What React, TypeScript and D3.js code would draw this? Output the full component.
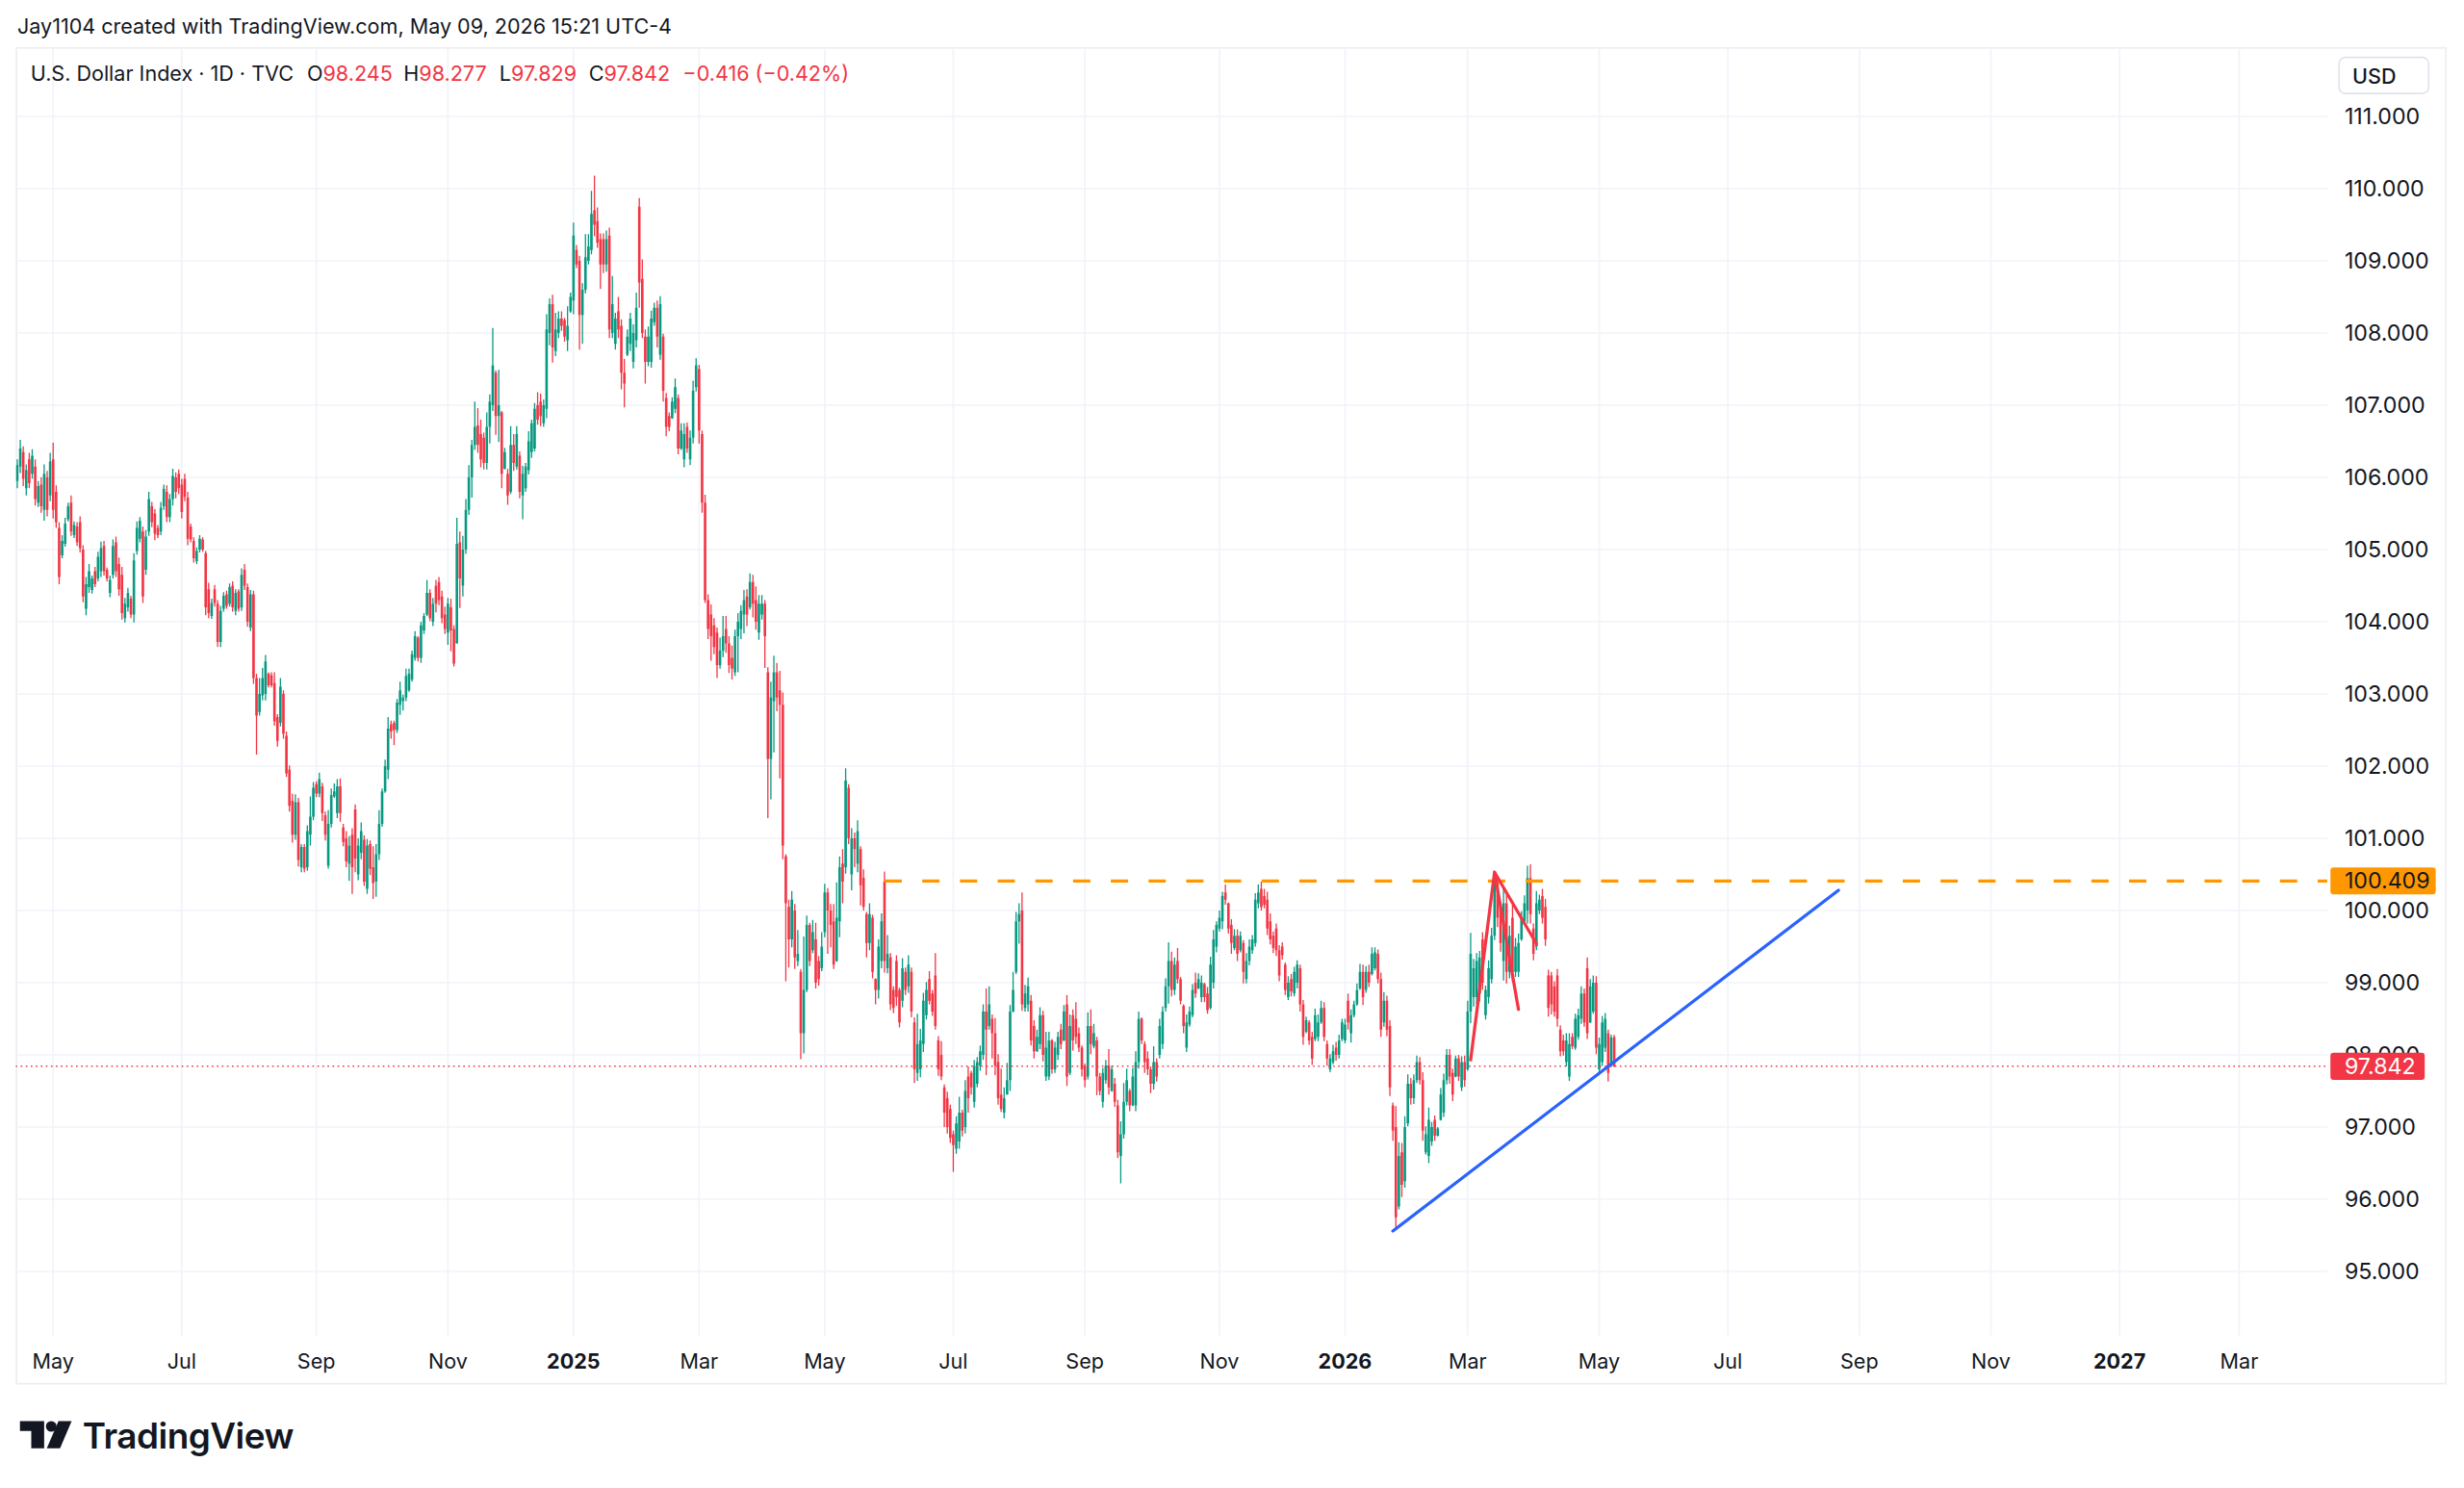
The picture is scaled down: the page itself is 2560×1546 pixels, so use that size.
import { useEffect, useRef } from "react";
import * as d3 from "d3";

// [open, high, low, close] per daily session
type Bar = [number, number, number, number];

const candles2024: Bar[] = [
  [105.95,106.25,105.85,106.17],[106.15,106.52,106.06,106.40],[106.35,106.43,105.88,105.98],[105.85,106.18,105.75,106.10],
  [106.25,106.34,105.85,105.92],[106.05,106.39,105.98,106.30],[106.15,106.25,105.61,105.70],[105.65,105.95,105.59,105.88],
  [105.90,106.00,105.51,105.60],[105.55,106.18,105.40,106.05],[106.00,106.09,105.46,105.55],[105.75,106.34,105.67,106.22],
  [106.25,106.48,105.43,105.55],[105.80,105.89,105.30,105.38],[105.30,105.38,104.52,104.62],[104.92,105.20,104.88,105.12],
  [105.08,105.44,105.04,105.36],[105.42,105.65,105.39,105.60],[105.65,105.75,105.19,105.25],[105.20,105.39,105.16,105.34],
  [105.32,105.38,105.05,105.10],[105.38,105.46,104.96,105.02],[105.00,105.06,104.27,104.35],[104.18,104.62,104.09,104.52],
  [104.48,104.80,104.40,104.70],[104.44,104.64,104.39,104.60],[104.70,104.76,104.48,104.52],[104.60,104.97,104.56,104.90],
  [104.70,105.11,104.62,105.02],[105.05,105.12,104.64,104.70],[104.72,104.75,104.56,104.60],[104.40,104.64,104.34,104.58],
  [104.65,105.14,104.60,105.05],[105.10,105.18,104.62,104.70],[104.80,104.89,104.36,104.45],[104.65,104.76,104.03,104.12],
  [104.05,104.33,103.99,104.25],[104.20,104.47,104.14,104.40],[104.32,104.36,104.05,104.10],[104.10,104.95,103.99,104.85],
  [104.98,105.39,104.93,105.30],[105.15,105.45,105.10,105.40],[105.25,105.32,104.26,104.35],[104.72,105.27,104.65,105.18],
  [105.25,105.80,105.19,105.70],[105.60,105.66,105.31,105.38],[105.50,105.56,105.13,105.22],[105.30,105.34,105.16,105.20],
  [105.25,105.66,105.20,105.58],[105.60,105.90,105.55,105.84],[105.80,105.89,105.38,105.45],[105.45,105.77,105.38,105.70],
  [105.70,106.12,105.61,106.02],[106.00,106.07,105.71,105.80],[106.05,106.11,105.77,105.85],[105.90,105.98,105.43,105.52],
  [105.98,106.05,105.67,105.73],[105.72,105.80,105.06,105.15],[105.32,105.36,105.10,105.14],[105.12,105.17,104.82,104.88],
  [104.84,105.03,104.80,104.98],[105.00,105.20,104.96,105.15],[105.14,105.17,104.97,105.00],[104.95,104.98,104.09,104.20],
  [104.45,104.54,104.05,104.12],[104.08,104.32,104.04,104.26],[104.45,104.51,104.21,104.26],[104.25,104.30,103.65,103.72],
  [103.72,104.22,103.65,104.15],[104.18,104.41,104.14,104.36],[104.38,104.43,104.18,104.22],[104.25,104.53,104.21,104.48],
  [104.50,104.56,104.14,104.20],[104.15,104.45,104.09,104.40],[104.42,104.45,104.14,104.18],[104.20,104.74,104.15,104.65],
  [104.72,104.80,104.44,104.50],[104.48,104.53,103.93,104.00],[103.92,104.44,103.87,104.38],[104.38,104.43,103.14,103.22],
  [103.22,103.28,102.16,102.70],[102.75,103.22,102.70,103.00],[102.98,103.36,102.91,103.22],[103.00,103.54,102.91,103.45],
  [103.28,103.30,103.09,103.12],[103.26,103.30,103.09,103.12],[103.15,103.30,102.56,102.62],[102.68,102.72,102.27,102.35],
  [102.60,103.22,102.55,103.10],[103.00,103.05,102.38,102.45],[102.42,102.48,101.85,101.90],[101.95,102.01,101.37,101.45],
  [101.52,101.62,100.94,101.05],[101.05,101.61,100.98,101.50],[101.50,101.56,100.61,100.70],[100.60,100.92,100.53,100.88],
  [100.88,100.92,100.53,100.58],[100.60,101.18,100.55,101.10],[101.05,101.58,100.90,101.30],[101.30,101.78,101.25,101.70],
  [101.75,101.79,101.57,101.62],[101.62,101.91,101.57,101.82],[101.72,101.77,101.24,101.35],[101.32,101.37,100.97,101.05],
  [100.62,101.39,100.58,101.20],[101.20,101.69,101.15,101.60],[101.58,101.76,101.56,101.65],[101.35,101.82,101.28,101.72],
  [101.72,101.83,101.23,101.35],[101.15,101.20,100.89,100.95],[101.00,101.10,100.60,100.68],[100.65,101.03,100.41,100.90],
  [101.05,101.14,100.23,100.60],[101.40,101.47,100.53,100.72],[100.50,101.00,100.42,100.90],[100.80,101.22,100.71,101.10],
  [100.98,101.04,100.34,100.40],[100.30,100.99,100.23,100.90],[100.92,100.97,100.49,100.58],[100.60,100.89,100.16,100.38],
  [100.40,100.92,100.19,100.78],[100.78,101.39,100.70,101.20],[101.20,101.69,101.16,101.65],[101.65,102.09,101.63,102.00],
  [101.95,102.68,101.82,102.52],[102.58,102.63,102.38,102.48],[102.60,102.63,102.29,102.50],[102.50,102.93,102.46,102.88],
  [102.85,103.17,102.71,103.05],[102.90,102.99,102.77,102.95],[102.95,103.35,102.90,103.25],[103.05,103.35,103.03,103.28],
  [103.20,103.60,103.17,103.55],[103.50,103.87,103.46,103.80],[103.78,103.80,103.45,103.50],[103.50,104.00,103.43,103.95],
  [103.88,104.12,103.83,104.08],[104.10,104.58,104.08,104.40],[104.40,104.45,104.01,104.05],[104.00,104.33,103.94,104.25],
  [104.50,104.58,104.13,104.25],[104.55,104.62,104.23,104.30],[104.35,104.43,103.98,104.05],[104.10,104.21,103.83,103.90],
  [103.85,104.33,103.68,104.25],[104.20,104.32,103.59,103.88],[103.90,103.95,103.38,103.42],[103.70,105.44,103.70,105.08],
  [105.10,105.25,104.19,104.60],[104.50,105.19,104.35,105.00],[105.00,105.70,104.94,105.55],[105.55,106.17,105.48,106.00],
  [106.00,106.52,105.72,106.45],[106.45,107.05,106.38,106.70],[106.72,106.96,106.34,106.45],[106.60,106.80,106.14,106.25],
  [106.55,106.62,106.11,106.20],[106.20,106.90,106.11,106.70],[106.70,107.15,106.47,107.05],[107.00,108.07,106.92,107.55],
  [107.45,107.48,106.59,106.85],[106.85,107.49,106.49,107.00],[106.90,106.92,105.85,106.05],[106.12,106.41,106.11,106.35],
  [106.05,106.12,105.62,105.75],[105.80,106.71,105.77,106.45],[106.45,106.60,106.09,106.20],[106.15,106.71,106.11,106.60],
  [106.30,106.36,105.71,105.80],[105.75,106.16,105.42,106.05],[105.85,106.20,105.80,106.15],[106.10,106.64,106.04,106.50],
  [106.35,106.80,106.27,106.75],[106.40,107.03,106.36,106.95],[107.00,107.18,106.73,106.80],[107.05,107.16,106.71,106.85],
  [106.75,107.08,106.70,107.00],[106.95,108.26,106.82,108.05],[108.00,108.48,107.83,108.40],[108.40,108.53,107.59,107.80],
  [107.75,108.28,107.68,108.05],[108.00,108.30,107.93,108.20],[108.20,108.30,108.03,108.10],[108.18,108.21,107.88,107.95],
  [107.90,108.37,107.75,108.10],[108.30,108.56,108.28,108.50],
];

const candles2025: Bar[] = [
  [108.45,109.53,108.26,109.35],[109.15,109.22,108.90,108.95],[109.00,109.07,107.77,108.25],[108.25,108.69,107.85,108.60],
  [108.60,109.37,108.55,109.05],[109.00,109.37,108.95,109.20],[109.15,109.97,109.09,109.65],[109.70,110.18,109.34,109.50],
  [109.55,109.74,109.18,109.25],[109.30,109.38,108.61,108.95],[109.30,109.38,108.83,108.95],[108.95,109.42,108.85,109.30],
  [109.35,109.46,107.93,108.05],[108.00,108.79,107.93,108.40],[107.85,108.28,107.77,108.20],[108.30,108.50,107.93,108.05],
  [108.10,108.19,107.22,107.45],[107.45,107.64,106.97,107.30],[107.70,108.05,107.68,107.95],[107.85,108.28,107.75,108.20],
  [107.60,108.12,107.51,108.00],[107.90,108.56,107.80,108.35],[109.75,109.87,108.35,108.70],[108.75,109.02,107.93,108.00],
  [107.95,108.05,107.30,107.60],[107.60,108.09,107.54,107.95],[107.60,108.31,107.52,108.20],[108.15,108.42,108.10,108.35],
  [108.35,108.45,107.80,107.95],[107.70,108.51,107.63,108.40],[107.95,107.99,107.05,107.20],[107.10,107.17,106.57,106.70],
  [106.85,106.90,106.64,106.70],[106.82,107.11,106.81,107.05],[106.95,107.37,106.89,107.25],[107.10,107.15,106.32,106.40],
  [106.40,106.75,106.38,106.65],[106.25,106.75,106.14,106.60],[106.70,106.76,106.34,106.40],[106.25,106.65,106.17,106.55],
  [106.55,107.34,106.47,107.20],[107.25,107.65,107.19,107.55],[107.50,107.56,106.47,106.65],[106.60,106.65,105.51,105.65],
  [105.65,105.76,104.26,104.30],[104.30,104.38,103.76,103.90],[104.10,104.24,103.46,103.80],[103.95,104.05,103.55,103.65],
  [103.85,103.92,103.22,103.40],[103.40,103.78,103.35,103.60],[103.60,104.08,103.51,103.80],[103.90,104.08,103.57,103.70],
  [103.70,103.80,103.29,103.40],[103.50,103.67,103.20,103.35],[103.30,103.89,103.25,103.80],[103.80,104.12,103.30,104.00],
  [103.90,104.23,103.76,104.15],[104.10,104.44,103.84,104.30],[104.35,104.45,103.94,104.10],[104.20,104.67,104.17,104.55],
  [104.55,104.65,104.06,104.25],[104.30,104.49,103.89,104.00],[103.85,104.37,103.75,104.25],[104.10,104.37,104.03,104.25],
  [104.25,104.30,103.36,103.80],[103.30,103.37,101.28,102.10],[102.10,103.17,101.54,102.95],[102.90,103.53,102.19,103.30],
  [103.30,103.43,102.76,102.95],[103.05,103.32,101.83,102.85],[102.85,103.02,100.71,100.90],[100.75,100.78,99.02,100.10],
  [100.05,100.15,99.21,99.60],[99.60,100.27,99.49,100.15],[100.00,100.09,99.19,99.35],[99.30,99.73,99.23,99.40],
  [99.15,99.19,97.94,98.30],[98.30,99.64,98.02,98.90],[98.90,99.93,98.87,99.80],[99.80,99.83,99.23,99.30],
  [99.45,99.87,99.41,99.70],[99.60,99.83,98.92,99.00],[99.30,99.37,98.96,99.05],[99.20,99.70,99.16,99.50],
  [99.70,100.37,99.63,100.25],[100.25,100.31,99.40,100.00],[100.00,100.09,99.49,99.80],[99.85,100.09,99.19,99.25],
  [99.30,100.39,99.29,99.90],[99.85,100.75,99.63,100.60],[100.65,100.85,100.10,100.40],[100.60,101.97,100.51,101.80],
  [101.70,101.75,100.92,101.00],[100.50,101.14,100.28,101.00],[101.00,101.08,100.60,100.85],[100.65,101.25,100.53,101.10],
  [100.85,100.89,100.07,100.35],[100.45,100.57,100.00,100.05],[99.95,99.98,99.35,99.55],[99.55,100.10,99.45,99.95],
  [99.90,99.94,99.06,99.15],[99.05,99.06,98.70,98.90],[98.90,99.60,98.78,99.50],[99.30,99.96,99.20,99.85],
  [100.40,100.54,99.14,99.30],[99.20,99.66,99.13,99.40],[99.35,99.41,98.62,98.70],[98.90,98.95,98.58,98.65],
  [99.30,99.38,98.68,98.80],[98.90,98.93,98.38,98.45],[98.75,99.34,98.66,99.20],[99.15,99.21,98.83,98.90],
  [98.95,99.38,98.86,99.25],[99.15,99.21,98.52,98.60],[98.45,98.52,97.61,97.80],[97.75,98.57,97.64,98.15],
  [97.80,98.36,97.69,98.20],[98.15,98.86,98.04,98.75],[98.55,99.01,98.49,98.90],[99.05,99.16,98.70,98.75],
  [98.85,98.90,98.54,98.60],[99.10,99.41,98.35,98.40],[98.20,98.26,97.71,97.80],[98.00,98.19,97.65,97.70],
  [97.55,97.59,97.00,97.20],[97.40,97.49,96.91,97.00],[97.25,97.31,96.78,96.85],[96.90,96.95,96.38,96.75],
  [96.70,97.15,96.63,97.05],[96.80,97.42,96.70,97.20],[97.20,97.24,96.87,96.95],[97.00,97.65,96.91,97.50],
  [97.70,97.84,97.20,97.40],[97.75,97.78,97.45,97.55],[97.35,97.93,97.27,97.85],[97.60,97.97,97.55,97.90],
  [97.85,98.13,97.78,98.05],[98.00,98.70,97.93,98.60],[98.60,98.92,97.72,98.35],[98.40,98.95,98.35,98.70],
  [98.50,98.56,97.95,98.30],[98.30,98.51,97.72,97.85],[97.90,98.01,97.31,97.40],[97.45,97.81,97.21,97.25],
  [97.20,97.55,97.12,97.40],[97.45,97.89,97.45,97.65],[97.65,98.69,97.50,98.60],[98.60,99.15,98.59,98.90],
  [99.15,99.98,99.12,99.85],[99.85,100.10,99.54,99.95],[100.00,100.25,98.61,98.70],[98.65,98.97,98.60,98.85],
  [98.70,99.07,98.60,98.95],[98.75,98.83,98.13,98.20],[98.40,98.48,97.95,98.05],[98.05,98.35,98.04,98.25],
  [98.15,98.66,98.08,98.55],[98.55,98.61,97.91,98.00],[97.70,98.32,97.64,98.10],[97.70,98.32,97.65,98.20],
  [98.20,98.22,97.74,97.80],[97.80,98.18,97.75,98.10],[98.00,98.32,97.93,98.25],[98.35,98.43,98.08,98.15],
  [98.20,98.69,98.19,98.60],[98.70,98.83,97.57,97.70],[97.75,98.56,97.72,98.40],[98.55,98.63,98.06,98.20],
  [98.50,98.73,98.15,98.25],[98.30,98.38,98.04,98.10],[98.10,98.13,97.70,97.80],[97.85,97.88,97.55,97.65],
  [97.70,98.59,97.66,98.40],[98.40,98.63,98.01,98.15],[98.12,98.43,98.09,98.30],[98.20,98.25,97.44,97.70],
  [97.70,97.75,97.44,97.50],[97.35,97.82,97.27,97.75],[97.65,97.93,97.60,97.85],[97.85,98.08,97.45,97.55],
  [97.50,97.85,97.49,97.80],[97.60,97.68,97.28,97.35],[97.30,97.38,96.57,96.65],[96.60,97.08,96.22,96.90],
  [96.90,97.61,96.84,97.35],[97.35,97.81,97.30,97.65],[97.50,97.53,97.22,97.30],[97.30,97.82,97.29,97.70],
  [97.30,98.05,97.22,97.90],[97.90,98.60,97.81,98.50],[98.50,98.52,98.15,98.20],[98.15,98.19,97.75,97.90],
  [97.95,98.05,97.72,97.80],[97.80,97.84,97.47,97.60],[97.60,98.12,97.52,97.90],[97.90,97.95,97.63,97.70],
  [98.00,98.50,97.95,98.40],[98.15,98.67,98.08,98.60],[98.65,99.06,98.60,98.95],[98.95,99.56,98.71,99.30],
  [99.30,99.43,98.81,98.90],[98.90,99.35,98.83,99.25],[99.30,99.48,98.99,99.05],[99.05,99.08,98.70,98.75],
  [98.68,98.70,98.30,98.40],[98.10,98.56,98.04,98.45],[98.42,98.67,98.39,98.60],[98.55,98.98,98.52,98.90],
  [99.00,99.14,98.79,98.85],[98.92,99.13,98.91,99.05],[98.80,99.10,98.73,99.00],[98.98,99.00,98.73,98.80],
  [98.85,98.94,98.57,98.62],[98.65,99.36,98.63,99.25],[99.00,99.73,98.92,99.60],[99.50,99.85,99.42,99.80],
  [99.75,100.00,99.71,99.90],[99.85,100.26,99.74,100.20],[100.25,100.36,100.08,100.15],[100.10,100.11,99.68,99.75],
  [99.80,99.88,99.40,99.55],[99.48,99.74,99.45,99.65],[99.65,99.74,99.30,99.40],[99.45,99.71,99.42,99.65],
  [99.55,99.59,98.99,99.15],[99.05,99.41,98.99,99.30],[99.30,99.60,99.24,99.50],[99.45,99.66,99.40,99.60],
  [99.55,100.24,99.50,100.15],[100.10,100.36,100.03,100.25],[100.30,100.40,100.00,100.05],[100.20,100.30,100.03,100.08],
  [100.15,100.26,99.66,99.75],[99.85,99.96,99.53,99.60],[99.65,99.71,99.41,99.48],[99.75,99.82,99.37,99.45],
  [99.45,99.52,99.02,99.10],[99.50,99.56,99.32,99.38],[99.25,99.28,98.83,98.90],[98.80,99.09,98.76,99.00],
  [99.05,99.12,98.81,98.88],[98.85,99.22,98.81,99.15],[99.00,99.31,98.92,99.25],[99.20,99.25,98.60,98.70],
  [98.70,98.76,98.14,98.25],[98.32,98.53,98.30,98.48],[98.45,98.48,98.14,98.20],[98.25,98.32,97.86,97.95],
  [98.22,98.64,98.19,98.55],[98.25,98.56,98.19,98.45],[98.45,98.75,98.43,98.65],[98.65,98.73,98.19,98.25],
  [98.15,98.20,97.85,97.95],[97.80,98.01,97.76,97.95],[97.90,98.14,97.87,98.05],[98.10,98.18,97.92,98.00],
  [98.00,98.28,97.95,98.20],[98.22,98.50,98.19,98.45],
];

const candles2026: Bar[] = [
  [98.20,98.50,98.16,98.42],[98.75,98.85,98.35,98.45],[98.30,98.63,98.17,98.55],[98.55,98.75,98.52,98.70],
  [98.70,98.99,98.68,98.90],[98.92,99.26,98.90,99.15],[99.15,99.25,98.69,98.80],[98.90,99.23,98.86,99.15],
  [99.15,99.25,98.94,99.00],[99.12,99.49,99.10,99.40],[99.20,99.49,99.17,99.42],[99.40,99.46,98.99,99.05],
  [99.05,99.14,98.25,98.35],[98.45,98.87,98.39,98.75],[98.75,98.82,98.26,98.35],[98.40,98.48,97.43,97.55],
  [97.30,97.34,96.81,96.95],[97.00,97.29,95.59,95.75],[95.90,96.79,95.86,96.60],[96.65,96.78,96.03,96.20],
  [96.25,97.15,96.16,97.00],[97.05,97.73,97.01,97.60],[97.60,97.68,97.31,97.40],[97.40,97.73,97.32,97.65],
  [97.65,97.99,97.61,97.90],[97.90,97.97,97.59,97.65],[97.65,97.76,96.81,96.95],[96.65,97.01,96.62,96.90],
  [96.60,97.27,96.50,97.10],[96.80,97.07,96.74,97.00],[97.10,97.16,96.81,96.88],[96.88,97.00,96.87,96.98],
  [97.10,97.54,97.09,97.45],[97.20,97.74,97.14,97.65],[97.65,98.08,97.59,98.00],[98.00,98.08,97.60,97.70],
  [97.75,97.81,97.36,97.45],[97.70,97.99,97.69,97.95],[97.95,98.00,97.64,97.70],[97.55,97.98,97.50,97.90],
  [97.90,97.99,97.56,97.65],[97.80,98.75,97.78,98.60],[98.60,99.69,98.44,99.40],[98.80,99.33,98.67,99.20],
  [98.80,99.41,98.70,99.30],[98.85,99.44,98.74,99.35],[99.60,99.70,98.90,99.00],[98.55,98.96,98.49,98.90],
  [98.80,99.31,98.71,99.20],[99.05,99.76,98.99,99.65],[99.65,100.52,99.59,100.40],[100.40,100.48,99.77,99.90],
  [100.05,100.12,99.43,99.55],[99.30,100.32,99.03,100.10],[100.10,100.23,98.99,99.15],[99.15,99.79,99.06,99.65],
  [99.90,100.08,99.01,99.15],[99.15,99.62,99.08,99.50],[99.15,99.68,99.08,99.55],[99.60,99.99,99.58,99.90],
  [99.85,100.21,99.81,100.10],[100.00,100.62,99.82,100.45],[100.45,100.64,99.82,99.95],[99.75,99.82,99.31,99.40],
  [99.50,100.27,99.45,100.10],[100.00,100.22,99.95,100.15],[100.20,100.30,99.82,99.90],[100.05,100.16,99.51,99.60],
  [99.10,99.18,98.53,98.65],[99.10,99.15,98.56,98.70],[98.95,99.02,98.53,98.60],[99.10,99.19,98.39,98.50],
  [98.35,98.41,97.98,98.05],[98.20,98.28,97.99,98.05],[97.90,98.30,97.84,98.20],[97.70,98.30,97.64,98.15],
  [98.25,98.30,98.08,98.12],[98.10,98.57,98.07,98.50],[98.25,98.64,98.21,98.55],[98.50,98.95,98.43,98.85],
  [98.85,98.92,98.39,98.45],[99.20,99.35,98.22,98.30],[98.45,99.05,98.44,98.95],[98.60,99.10,98.57,99.00],
  [99.00,99.09,98.01,98.10],[97.80,98.24,97.74,98.15],[97.90,98.54,97.85,98.45],[98.10,98.58,98.04,98.50],
  [98.30,98.35,97.63,97.75],[97.85,98.28,97.83,98.24],[98.245,98.277,97.829,97.842],
];

// sessions are weekdays from the first bar; these days have no bar
const firstSession = "2024-04-15";
const closedDays = ["2024-12-25", "2025-01-01", "2025-04-18", "2025-12-25", "2026-01-01", "2026-12-25", "2027-01-01"];

const priceTicks = [95, 96, 97, 98, 99, 100, 101, 102, 103, 104, 105, 106, 107, 108, 109, 110, 111];
const timeTickMonths = ["2024-05", "2024-07", "2024-09", "2024-11", "2025-01", "2025-03", "2025-05", "2025-07", "2025-09",
  "2025-11", "2026-01", "2026-03", "2026-05", "2026-07", "2026-09", "2026-11", "2027-01", "2027-03"];
const timeTickLabels = ["May", "Jul", "Sep", "Nov", "2025", "Mar", "May", "Jul", "Sep", "Nov", "2026", "Mar", "May", "Jul", "Sep", "Nov", "2027", "Mar"];

const legendKeys = ["O", "H", "L", "C"];
const legendQuote = ["98.245", "98.277", "97.829", "97.842", "−0.416 (−0.42%)"];
const lastClose = 97.842;
// horizontal level: [from bar, price]
const resistanceLevel = [290, 100.409];
// drawings: [bar, price]
const trendLine: [number, number][] = [[460, 95.56], [609, 100.28]];
const patternLines: [number, number][][] = [
  [[486, 97.93], [494, 100.53], [502, 98.63]],
  [[494, 100.53], [508, 99.54]],
];

const W = 1568;
const H = 946.9;
const FONT = "Inter, 'Noto Sans', sans-serif";
const TEXT = "#131722";
const UP = "#089981";
const DOWN = "#f23645";

export default function App() {
  const svgRef = useRef<SVGSVGElement>(null);

  useEffect(() => {
    if (!svgRef.current) return;
    document.body.style.margin = "0";

    const svg = d3.select(svgRef.current);
    svg.selectAll("*").remove();

    const bars = [...candles2024, ...candles2025, ...candles2026];

    // trading calendar (bar index -> date)
    const closed = new Set(closedDays);
    const sessions: Date[] = [];
    const start = new Date(firstSession + "T00:00:00Z");
    for (let t = start.getTime(); t <= Date.UTC(2027, 3, 30); t += 86400000) {
      const d = new Date(t);
      const wd = d.getUTCDay();
      if (wd === 0 || wd === 6) continue;
      if (closed.has(d.toISOString().slice(0, 10))) continue;
      sessions.push(d);
    }
    const monthIndex = (ym: string) => sessions.findIndex((d) => d.toISOString().slice(0, 7) === ym);

    const plot = { left: 10, right: 1481, top: 30, bottom: 850 };
    const x = d3.scaleLinear().domain([0, 1000]).range([11.0, 11.0 + 1903]);
    const y = d3.scaleLinear().domain([95, 111]).range([809.1, 74.1]);

    svg.append("rect").attr("width", W).attr("height", H).attr("fill", "#ffffff");

    // header
    svg.append("text")
      .attr("x", 11).attr("y", 21.5)
      .attr("font-family", FONT).attr("font-size", 13.2).attr("fill", TEXT)
      .text("Jay1104 created with TradingView.com, May 09, 2026 15:21 UTC-4");

    // pane frame
    svg.append("rect")
      .attr("x", 10.5).attr("y", 30.5).attr("width", 1546).attr("height", 850)
      .attr("fill", "none").attr("stroke", "#eceef2").attr("stroke-width", 1);

    const defs = svg.append("defs");
    defs.append("clipPath").attr("id", "plot-clip")
      .append("rect")
      .attr("x", plot.left).attr("y", plot.top)
      .attr("width", plot.right - plot.left).attr("height", plot.bottom - plot.top);

    // grid
    const grid = svg.append("g");
    grid.selectAll("line.h")
      .data(priceTicks)
      .join("line")
      .attr("x1", plot.left).attr("x2", plot.right)
      .attr("y1", (d) => y(d)).attr("y2", (d) => y(d))
      .attr("stroke", "#f0f3fa").attr("stroke-width", 1);

    const timeTicks = timeTickMonths.map((m, k) => ({ i: monthIndex(m), label: timeTickLabels[k] }));
    grid.selectAll("line.v")
      .data(timeTicks)
      .join("line")
      .attr("x1", (d) => x(d.i)).attr("x2", (d) => x(d.i))
      .attr("y1", plot.top).attr("y2", plot.bottom)
      .attr("stroke", "#f0f3fa").attr("stroke-width", 1);

    // candles
    const chart = svg.append("g").attr("clip-path", "url(#plot-clip)");
    const bodyW = 1.6;
    const candle = chart.selectAll("g.c")
      .data(bars)
      .join("g");
    candle.append("line")
      .attr("x1", (_, i) => x(i)).attr("x2", (_, i) => x(i))
      .attr("y1", (d) => y(d[1])).attr("y2", (d) => y(d[2]))
      .attr("stroke", (d) => (d[3] >= d[0] ? UP : DOWN))
      .attr("stroke-width", 0.8);
    candle.append("rect")
      .attr("x", (_, i) => x(i) - bodyW / 2)
      .attr("width", bodyW)
      .attr("y", (d) => y(Math.max(d[0], d[3])))
      .attr("height", (d) => Math.max(0.7, Math.abs(y(d[0]) - y(d[3]))))
      .attr("fill", (d) => (d[3] >= d[0] ? UP : DOWN));

    // last price line
    chart.append("line")
      .attr("x1", plot.left).attr("x2", plot.right)
      .attr("y1", y(lastClose)).attr("y2", y(lastClose))
      .attr("stroke", DOWN).attr("stroke-width", 0.9)
      .attr("stroke-dasharray", "1,2.2");

    // horizontal resistance
    chart.append("line")
      .attr("x1", x(resistanceLevel[0])).attr("x2", plot.right)
      .attr("y1", y(resistanceLevel[1])).attr("y2", y(resistanceLevel[1]))
      .attr("stroke", "#ff9800").attr("stroke-width", 1.9)
      .attr("stroke-dasharray", "11,13");

    // trend line
    const path = d3.line<[number, number]>().x((d) => x(d[0])).y((d) => y(d[1]));
    chart.append("path")
      .attr("d", path(trendLine))
      .attr("fill", "none").attr("stroke", "#2962ff").attr("stroke-width", 2)
      .attr("stroke-linecap", "round");

    patternLines.forEach((pts) => {
      chart.append("path")
        .attr("d", path(pts))
        .attr("fill", "none").attr("stroke", DOWN).attr("stroke-width", 2)
        .attr("stroke-linecap", "round").attr("stroke-linejoin", "round");
    });

    // legend
    const legend = svg.append("g").attr("font-family", FONT).attr("font-size", 13.2);
    legend.append("text").attr("x", 19.5).attr("y", 51.5).attr("fill", TEXT)
      .text("U.S. Dollar Index · 1D · TVC");
    const legendX = [195.4, 256.8, 317.8, 374.7];
    legendKeys.forEach((k, j) => {
      const t = legend.append("text").attr("x", legendX[j]).attr("y", 51.5).attr("fill", TEXT);
      t.append("tspan").text(k);
      t.append("tspan").attr("fill", DOWN).text(legendQuote[j]);
    });
    legend.append("text").attr("x", 434.5).attr("y", 51.5).attr("fill", DOWN).text(legendQuote[4]);

    // price axis
    const axisSize = 14.2;
    const axis = svg.append("g").attr("font-family", FONT).attr("font-size", axisSize).attr("fill", TEXT);
    axis.selectAll("text")
      .data(priceTicks)
      .join("text")
      .attr("x", 1492).attr("y", (d) => y(d))
      .attr("dominant-baseline", "central")
      .text((d) => d3.format(".3f")(d));

    svg.append("rect")
      .attr("x", 1488.5).attr("y", 36.5).attr("width", 57).attr("height", 23).attr("rx", 4)
      .attr("fill", "#ffffff").attr("stroke", "#e0e3eb");
    svg.append("text")
      .attr("x", 1497).attr("y", 48.5).attr("dominant-baseline", "central")
      .attr("font-family", FONT).attr("font-size", 13.2).attr("font-weight", 500).attr("fill", TEXT)
      .text("USD");

    const priceTag = (price: number, w: number, fill: string, color: string) => {
      svg.append("rect")
        .attr("x", 1483).attr("y", y(price) - 8.6).attr("width", w).attr("height", 17.2).attr("rx", 2)
        .attr("fill", fill);
      svg.append("text")
        .attr("x", 1492).attr("y", y(price)).attr("dominant-baseline", "central")
        .attr("font-family", FONT).attr("font-size", axisSize).attr("fill", color)
        .text(d3.format(".3f")(price));
    };
    priceTag(resistanceLevel[1], 67, "#ff9800", TEXT);
    priceTag(lastClose, 60, DOWN, "#ffffff");

    // time axis
    svg.append("g").attr("font-family", FONT).attr("font-size", 13.2).attr("fill", TEXT)
      .selectAll("text")
      .data(timeTicks)
      .join("text")
      .attr("x", (d) => x(d.i)).attr("y", 866)
      .attr("text-anchor", "middle").attr("dominant-baseline", "central")
      .attr("font-weight", (d) => (/^\d+$/.test(d.label) ? 700 : 400))
      .text((d) => d.label);

    // TradingView mark
    const logo = svg.append("g").attr("fill", "#131722");
    logo.append("path").attr("d", "M12.7,904.3 H28.1 V921.6 H19.9 V910.6 H12.7 Z");
    logo.append("circle").attr("cx", 32.6).attr("cy", 907.7).attr("r", 3.4);
    logo.append("path").attr("d", "M37.2,904.3 H45.6 L38.2,921.6 H29.8 Z");
    logo.append("text")
      .attr("x", 52.5).attr("y", 921.6)
      .attr("font-family", FONT).attr("font-size", 22.6).attr("font-weight", 600)
      .attr("letter-spacing", -0.3)
      .text("TradingView");
  }, []);

  return (
    <svg
      ref={svgRef}
      width={2560}
      height={1546}
      viewBox={`0 0 ${W} ${H}`}
      style={{ display: "block" }}
    />
  );
}
